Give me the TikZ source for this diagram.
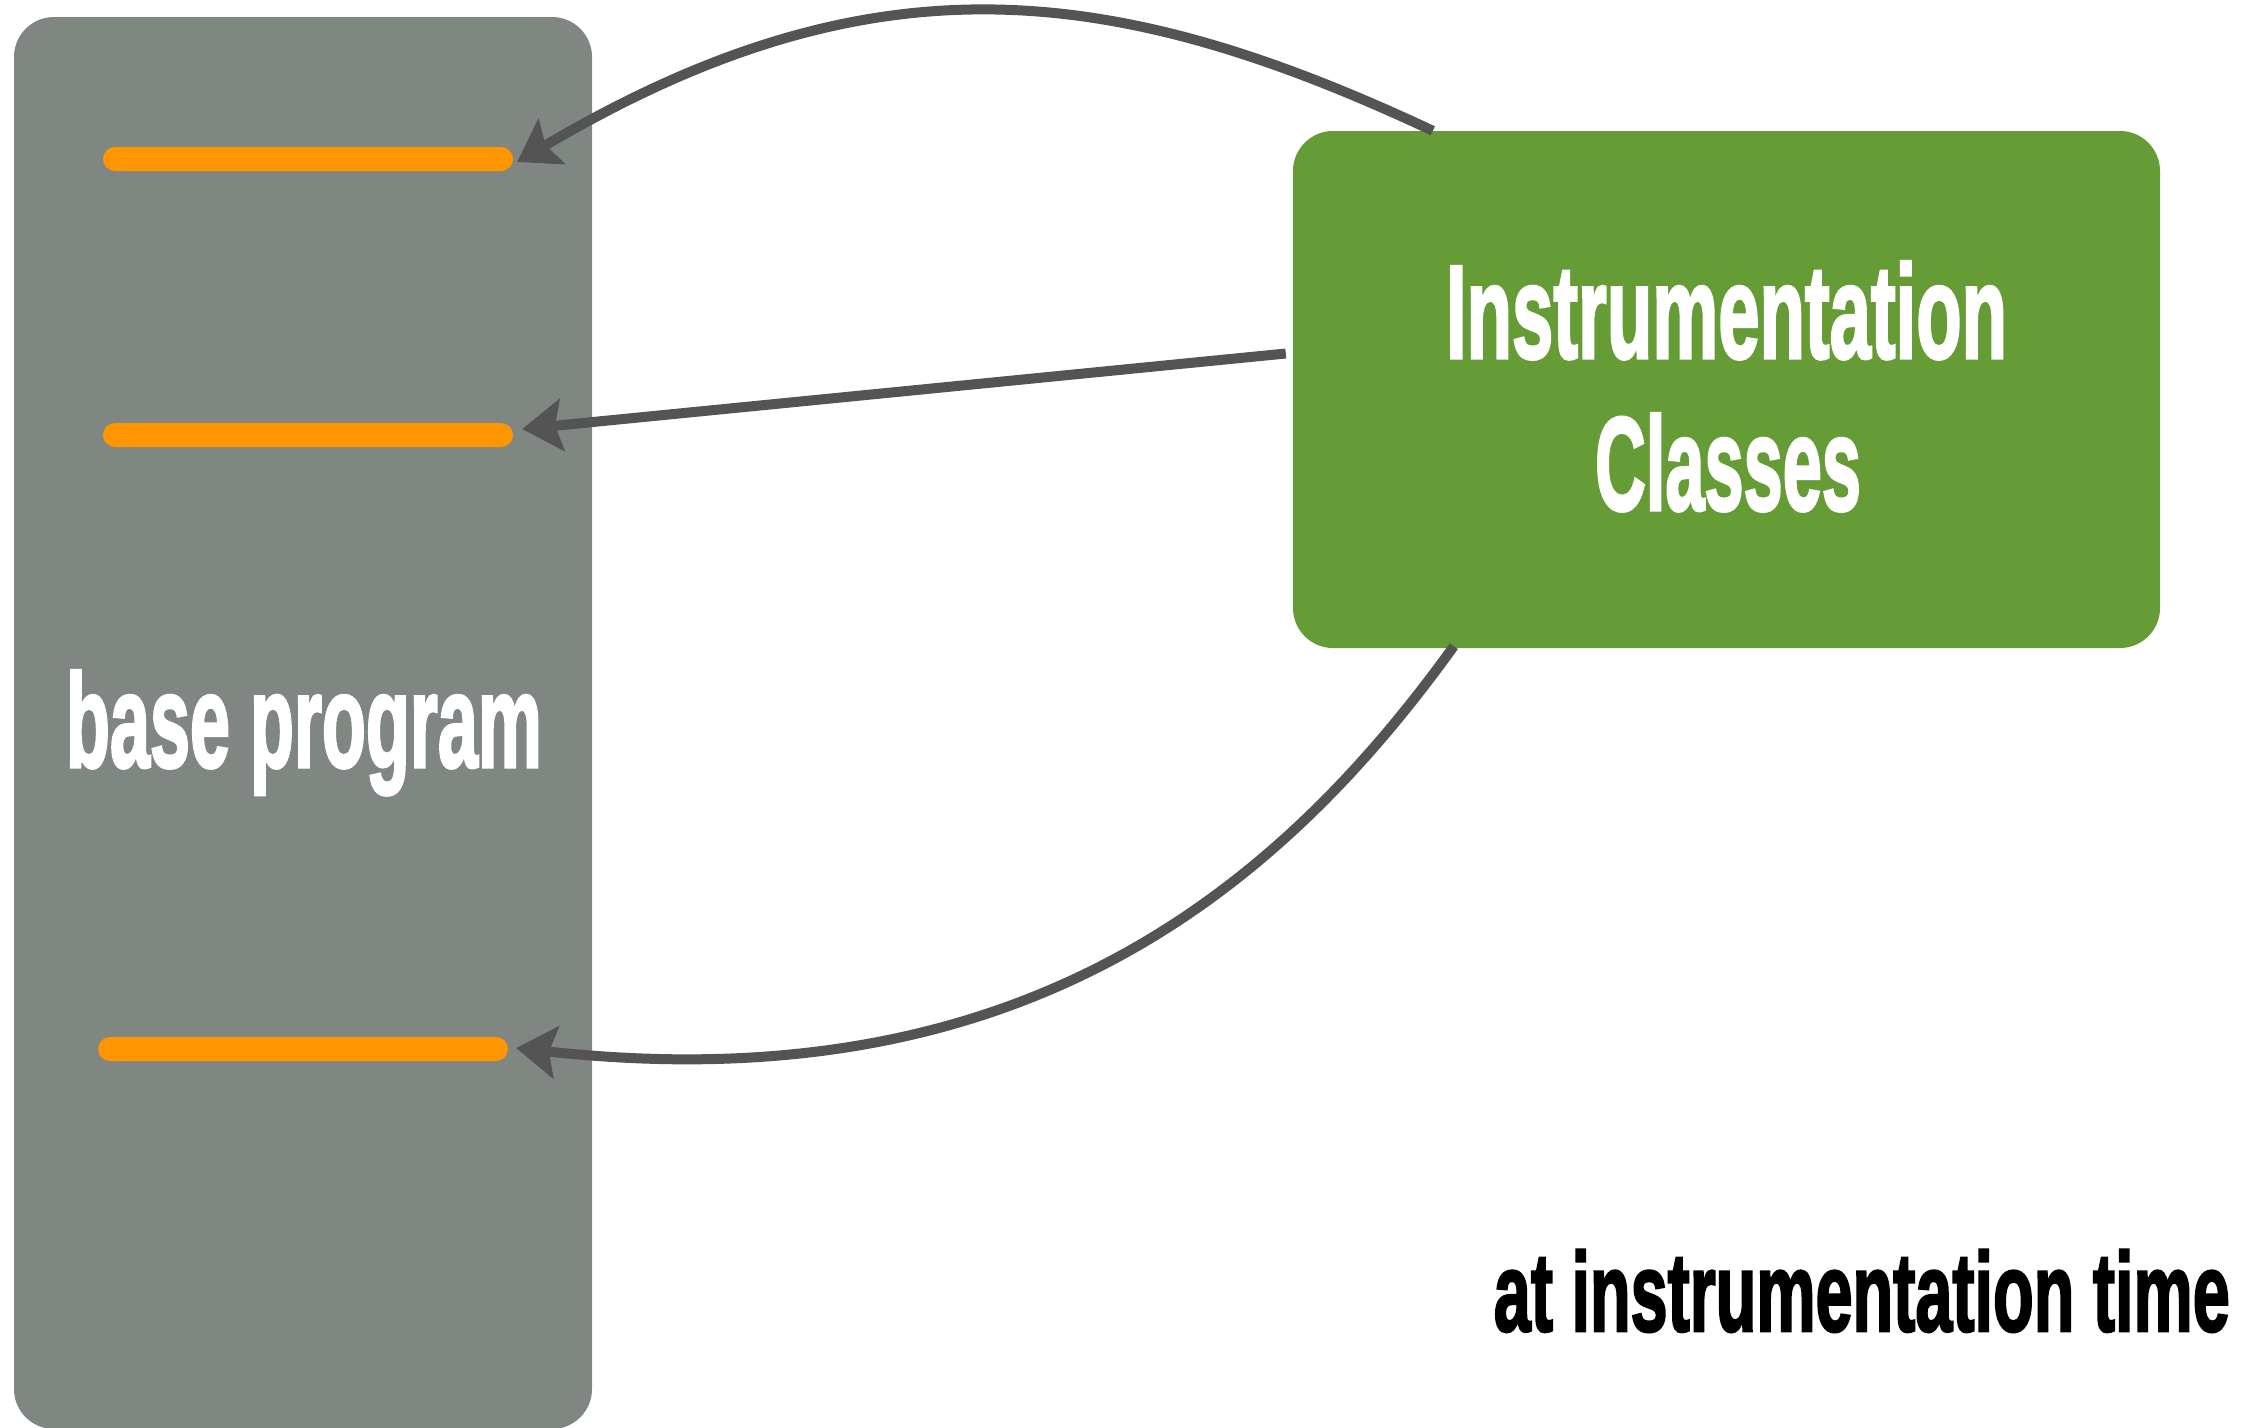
\documentclass[tikz,border=0pt]{standalone}
\usepackage{fontspec}
\setmainfont{Liberation Sans}
\newfontfamily\headfont[FakeBold=2.5]{Liberation Sans Bold}
\usetikzlibrary{arrows.meta}

\definecolor{boxgray}{HTML}{808783}
\definecolor{boxgreen}{HTML}{669C35}
\definecolor{barorange}{HTML}{FF9500}
\definecolor{linkgray}{HTML}{545454}

\tikzset{
  panel/.style={draw=none, rounded corners=40pt, inner sep=0pt},
  bar/.style={fill=barorange, rounded corners=12pt, minimum width=410pt, minimum height=24pt, inner sep=0pt},
  link/.style={draw=linkgray, line width=10pt,
    -{Stealth[length=40pt, width=52pt, inset=7pt]}},
  bigtext/.style={anchor=base, inner sep=0pt, font=\headfont\fontsize{133}{140}\selectfont},
}

\begin{document}
\begin{tikzpicture}[x=1pt, y=-1pt]
  \useasboundingbox (0,0) rectangle (2253,1427);

  % boxes and bars
  \node[panel, fill=boxgray, minimum width=578pt, minimum height=1412pt] (base) at (303,723) {};
  \node[bar] (bar1) at (308,159) {};
  \node[bar] (bar2) at (308,435) {};
  \node[bar] (bar3) at (303,1049) {};
  \node[panel, fill=boxgreen, minimum width=867pt, minimum height=517pt] (instr) at (1726.5,389.5) {};

  % connectors
  \draw[link] ([xshift=140pt]instr.north west) .. controls +(-320,-150) and +(355,-210) .. ([xshift=4pt,yshift=-3pt]bar1.east);
  \draw[link] ([xshift=-7pt,yshift=36pt]instr.west) -- ([xshift=9pt,yshift=6pt]bar2.east);
  \draw[link] ([xshift=161pt,yshift=2pt]instr.south west) .. controls +(-180,250) and +(500,55) .. ([xshift=8pt,yshift=1pt]bar3.east);

  % labels
  \node[bigtext, text=white] (baselabel) at (304,767) {\resizebox{476pt}{\height}{base program}};
  \node[bigtext, text=white] (instrA) at (1726.5,358) {\resizebox{561pt}{\height}{Instrumentation}};
  \node[bigtext, text=white] (instrB) at (1728,510) {\resizebox{266pt}{\height}{Classes}};
  \node[bigtext, anchor=base east, text=black, font=\headfont\fontsize{112}{120}\selectfont] (caption) at (2230,1331) {\resizebox{736pt}{\height}{at instrumentation time}};
\end{tikzpicture}
\end{document}
